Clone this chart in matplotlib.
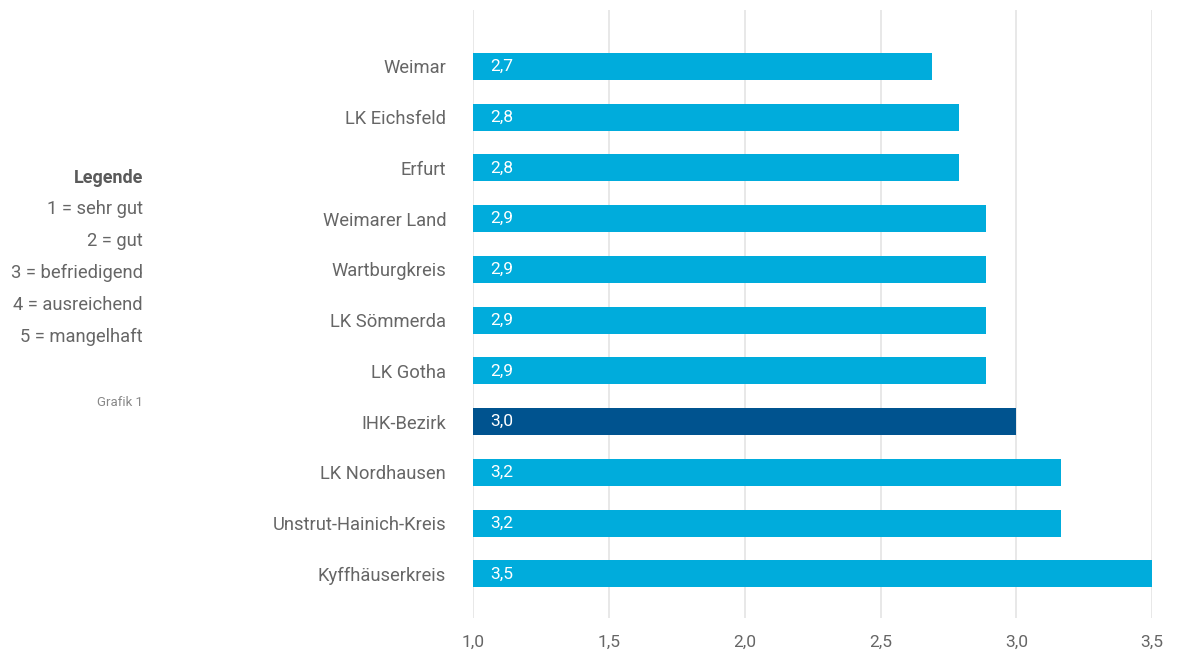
import matplotlib
matplotlib.use("Agg")
import matplotlib.pyplot as plt

categories = ["Weimar", "LK Eichsfeld", "Erfurt", "Weimarer Land", "Wartburgkreis",
              "LK Sömmerda", "LK Gotha", "IHK-Bezirk", "LK Nordhausen",
              "Unstrut-Hainich-Kreis", "Kyffhäuserkreis"]
values = [2.69, 2.79, 2.79, 2.89, 2.89, 2.89, 2.89, 3.0, 3.165, 3.165, 3.5]
value_labels = ["2,7", "2,8", "2,8", "2,9", "2,9", "2,9", "2,9", "3,0", "3,2", "3,2", "3,5"]
highlight = "IHK-Bezirk"
xticks = [1.0, 1.5, 2.0, 2.5, 3.0, 3.5]
xtick_labels = ["1,0", "1,5", "2,0", "2,5", "3,0", "3,5"]
legend_title = "Legende"
legend_lines = ["1 = sehr gut", "2 = gut", "3 = befriedigend", "4 = ausreichend", "5 = mangelhaft"]
footnote = "Grafik 1"

plt.rcParams['font.family'] = ['Roboto', 'DejaVu Sans']
TXT = "#666666"
LIGHT = "#00ACDC"
DARK = "#00538F"
GRID = "#E2E2E2"

W, H = 1189, 652
fig = plt.figure(figsize=(W / 100, H / 100), dpi=100)
ax = fig.add_axes([473.3 / W, 1 - 618 / H, (1152 - 473.3) / W, (618 - 10) / H])

ypos = list(range(len(categories)))
colors = [DARK if c == highlight else LIGHT for c in categories]
ax.barh(ypos, [v - 1.0 for v in values], left=1.0, height=0.53, color=colors, zorder=3)

for y, lab in zip(ypos, value_labels):
    ax.text(1.0 + 17 / 271.5, y, lab, color="white", fontsize=12.5,
            va="center", ha="left", zorder=4)

ax.set_xlim(1.0, 3.5)
ax.set_ylim(len(categories) - 1 + 0.87, -1.11)
ax.set_xticks(xticks)
ax.set_xticklabels(xtick_labels, fontsize=12.5, color=TXT)
ax.set_yticks(ypos)
ax.set_yticklabels(categories, fontsize=13.2, color=TXT)
ax.tick_params(axis="y", length=0, pad=19.5)
ax.tick_params(axis="x", length=0, pad=12)
for s in ax.spines.values():
    s.set_visible(False)
ax.grid(axis="x", color=GRID, linewidth=1.1, zorder=0)
ax.grid(axis="y", visible=False)

fig.text(143 / W, 1 - 178 / H, legend_title, ha="right", va="center", fontsize=13,
         fontweight="bold", color="#5a5a5a")
for i, line in enumerate(legend_lines):
    fig.text(143 / W, 1 - (209 + i * 32) / H, line, ha="right", va="center",
             fontsize=13.2, color=TXT)
fig.text(143 / W, 1 - 403 / H, footnote, ha="right", va="center", fontsize=9.5,
         color="#888888")

fig.savefig("out.png", dpi=100, facecolor="white")
